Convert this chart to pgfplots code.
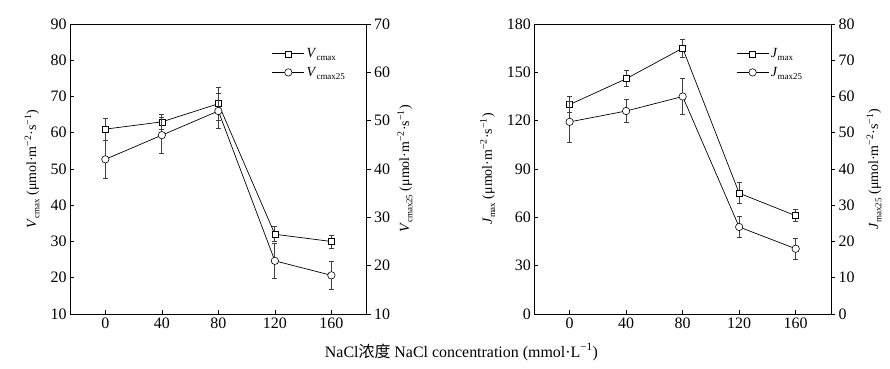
\documentclass[border=0pt]{standalone}
\usepackage{fontspec}
\setmainfont{Liberation Serif}
\newfontfamily\cjk{Noto Sans CJK SC}
\usepackage{pgfplots}
\pgfplotsset{compat=1.18}

\newcommand{\sub}[1]{\raisebox{-0.5ex}{\fontsize{9}{9}\selectfont #1}}
\newcommand{\unit}{(μmol·m\textsuperscript{−2}·s\textsuperscript{−1})}

\pgfplotsset{
  base/.style={
    scale only axis, width=296.7bp, height=290bp,
    xmin=-25, xmax=185, xtick={0,40,80,120,160},
    font=\fontsize{14}{16}\selectfont,
    tick label style={font=\fontsize{16}{18}\selectfont},
    /pgf/number format/assume math mode=true,
    axis line style={line width=0.7pt, black},
    major tick length=4bp,
    tick style={line width=0.6pt, black},
    clip=false,
  },
  leftax/.style={base, tick align=inside, xtick pos=bottom, ytick pos=left},
  rightax/.style={base, axis x line=none, axis y line*=right, tick align=outside, ytick pos=right,
    y axis line style={line width=0.7pt}},
  sq/.style={line width=0.7pt, black, mark=square*, mark size=3bp, mark options={fill=white, draw=black, line width=0.6pt}},
  ci/.style={line width=0.7pt, black, mark=*, mark size=3.7bp, mark options={fill=white, draw=black, line width=0.6pt}},
  eb/.style={error bars/.cd, y dir=both, y explicit,
    error bar style={line width=0.8pt, black!75},
    error mark options={rotate=90, mark size=2.6bp, line width=0.8pt, black!75}},
  legend image code/.code={\draw[mark repeat=2, mark phase=2, #1] plot coordinates {(0bp,0bp) (16bp,0bp) (32bp,0bp)};},
}

\begin{document}
\begin{tikzpicture}
\useasboundingbox (-70bp,-55bp) rectangle (820bp,314bp);

% ---------- Left panel ----------
\begin{axis}[leftax, ymin=10, ymax=90, ytick={10,20,...,90},
  ylabel={\textit{V}\sub{cmax} \unit},
  ylabel style={at={(axis description cs:-0.128,0.5)}, anchor=center}]
\addplot+[sq, eb] coordinates {
  (0,61) +- (0,3)
  (40,63) +- (0,2.2)
  (80,68) +- (0,4.5)
  (120,32) +- (0,2.1)
  (160,30) +- (0,1.8)
};
\end{axis}
\begin{axis}[rightax, ymin=10, ymax=70, ytick={10,20,...,70},
  ylabel={\textit{V}\sub{cmax25} \unit},
  ylabel style={at={(axis description cs:1.129,0.5)}, anchor=center, rotate=0},
  legend style={draw=none, fill=none, anchor=north west, at={(0.67,0.93)}, row sep=4bp,
    font=\fontsize{14}{16}\selectfont, cells={anchor=west}}]
\addlegendimage{sq}
\addlegendentry{\textit{V}\sub{cmax}}
\addplot+[ci, eb] coordinates {
  (0,42) +- (0,4)
  (40,47) +- (0,3.7)
  (80,52) +- (0,3.7)
  (120,21) +- (0,3.6)
  (160,18) +- (0,2.9)
};
\addlegendentry{\textit{V}\sub{cmax25}}
\end{axis}

% ---------- Right panel ----------
\begin{axis}[leftax, at={(464.3bp,0bp)}, ymin=0, ymax=180, ytick={0,30,...,180},
  ylabel={\textit{J}\sub{max} \unit},
  ylabel style={at={(axis description cs:-0.157,0.5)}, anchor=center}]
\addplot+[sq, eb] coordinates {
  (0,130) +- (0,5)
  (40,146) +- (0,5)
  (80,165) +- (0,5.5)
  (120,75) +- (0,6.5)
  (160,61) +- (0,3.7)
};
\end{axis}
\begin{axis}[rightax, at={(464.3bp,0bp)}, ymin=0, ymax=80, ytick={0,10,...,80},
  ylabel={\textit{J}\sub{max25} \unit},
  ylabel style={at={(axis description cs:1.145,0.5)}, anchor=center, rotate=0},
  legend style={draw=none, fill=none, anchor=north west, at={(0.67,0.93)}, row sep=4bp,
    font=\fontsize{14}{16}\selectfont, cells={anchor=west}}]
\addlegendimage{sq}
\addlegendentry{\textit{J}\sub{max}}
\addplot+[ci, eb] coordinates {
  (0,53) +- (0,5.6)
  (40,56) +- (0,3.2)
  (80,60) +- (0,4.9)
  (120,24) +- (0,3)
  (160,18) +- (0,2.9)
};
\addlegendentry{\textit{J}\sub{max25}}
\end{axis}

\node[font=\fontsize{16}{18}\selectfont] at (391.5bp,-38bp)
  {NaCl{\cjk 浓度} NaCl concentration (mmol·L\textsuperscript{−1})};
\end{tikzpicture}
\end{document}
